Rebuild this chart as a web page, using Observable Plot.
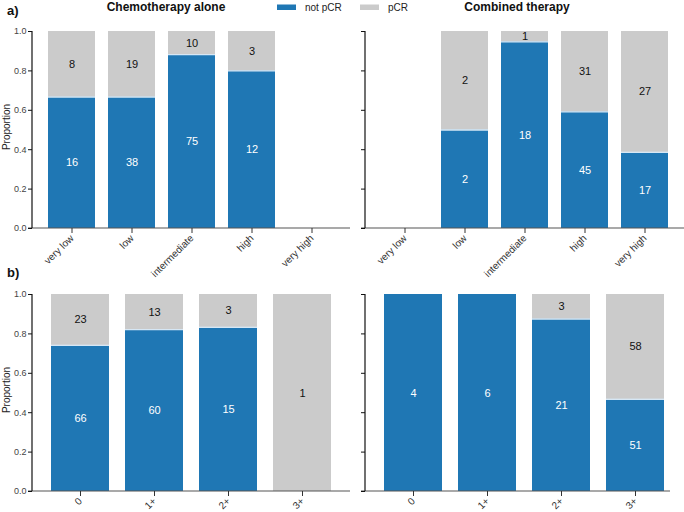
<!DOCTYPE html>
<html>
<head>
<meta charset="utf-8">
<script src="https://cdn.jsdelivr.net/npm/d3@7"></script>
<script src="https://cdn.jsdelivr.net/npm/@observablehq/plot@0.6"></script>
<style>
  html, body { margin: 0; padding: 0; background: white; }
  #root { position: relative; width: 684px; height: 512px; overflow: hidden; font-family: "Liberation Sans", Arial, sans-serif; }
  #root > svg, #root > .p { position: absolute; }
</style>
</head>
<body>
<div id="root"></div>
<script>
// ---- data ----
const statuses = ["not pCR", "pCR"];
const statusColors = ["#1f77b4", "#cbcbcb"];

const riskCategories = ["very low", "low", "intermediate", "high", "very high"];
const chemoRiskNot = [16, 38, 75, 12, 0];
const chemoRiskPcr = [8, 19, 10, 3, 0];
const combRiskNot = [0, 2, 18, 45, 17];
const combRiskPcr = [0, 2, 1, 31, 27];

const herCategories = ["0", "1+", "2+", "3+"];
const chemoHerNot = [66, 60, 15, 0];
const chemoHerPcr = [23, 13, 3, 1];
const combHerNot = [4, 6, 21, 51];
const combHerPcr = [0, 0, 3, 58];

const yTicks = [0, 0.2, 0.4, 0.6, 0.8, 1.0];

const svgns = "http://www.w3.org/2000/svg";
const root = document.getElementById("root");

function line(x1, y1, x2, y2, stroke, sw) {
  const l = document.createElementNS(svgns, "line");
  l.setAttribute("x1", x1); l.setAttribute("y1", y1);
  l.setAttribute("x2", x2); l.setAttribute("y2", y2);
  l.setAttribute("stroke", stroke); l.setAttribute("stroke-width", sw);
  return l;
}

function panel(cfg) {
  const rows = [], seps = [];
  cfg.cats.forEach((c, i) => {
    const n = cfg.not[i], p = cfg.pcr[i], t = n + p;
    if (t === 0) return;
    rows.push({cat: c, status: "not pCR", count: n, prop: n / t, mid: n / t / 2});
    rows.push({cat: c, status: "pCR", count: p, prop: p / t, mid: n / t + p / t / 2});
    if (n > 0 && p > 0) seps.push({cat: c, y: n / t});
  });
  const chart = Plot.plot({
    width: cfg.width,
    height: cfg.height,
    marginLeft: cfg.marginLeft,
    marginRight: cfg.marginRight,
    marginTop: cfg.marginTop,
    marginBottom: cfg.marginBottom,
    style: {background: "transparent", overflow: "visible", fontFamily: "'Liberation Sans', Arial, sans-serif"},
    x: {domain: cfg.cats, range: cfg.range, paddingInner: cfg.pi, paddingOuter: cfg.pi / 2, label: null},
    y: {domain: [0, 1], label: null},
    color: {domain: statuses, range: statusColors},
    marks: [
      Plot.barY(rows, {x: "cat", y: "prop", fill: "status"}),
      Plot.tickY(seps, {x: "cat", y: "y", stroke: "#d6e7f5", strokeWidth: 1.3}),
      Plot.text(rows.filter(d => d.status === "not pCR" && d.count > 0),
        {x: "cat", y: "mid", text: "count", fill: "white", fontSize: 11}),
      Plot.text(rows.filter(d => d.status === "pCR" && d.count > 0),
        {x: "cat", y: "mid", text: "count", fill: "#111", fontSize: 11}),
      // axis lines
      (index, scales, values, dims) => {
        const g = document.createElementNS(svgns, "g");
        g.appendChild(line(dims.marginLeft - 4, scales.y(0), dims.width - dims.marginRight, scales.y(0), "#555", 1.2));
        g.appendChild(line(dims.marginLeft, scales.y(1), dims.marginLeft, scales.y(0), "#111", 1.2));
        return g;
      },
      Plot.axisY({ticks: yTicks, tickFormat: cfg.yLabels ? d3.format(".1f") : () => "",
        tickSize: 4, tickPadding: 2, fontSize: 9, fill: "#444", stroke: "#111"}),
      Plot.axisX({tickSize: 5, tickRotate: -45, tickPadding: 3, fontSize: 10, fill: "#333", stroke: "#333"})
    ]
  });
  chart.style.position = "absolute";
  chart.style.left = cfg.left + "px";
  chart.style.top = cfg.top + "px";
  chart.style.maxWidth = "none";
  root.appendChild(chart);
}

// top row
panel({cats: riskCategories, not: chemoRiskNot, pcr: chemoRiskPcr,
  left: 0, top: 20, width: 352, height: 262, marginLeft: 32, marginRight: 2, marginTop: 11, marginBottom: 54,
  range: [41.5, 341.5], pi: 0.217, yLabels: true});
panel({cats: riskCategories, not: combRiskNot, pcr: combRiskPcr,
  left: 352, top: 20, width: 332, height: 262, marginLeft: 13, marginRight: 0, marginTop: 11, marginBottom: 54,
  range: [22.3, 322.3], pi: 0.217, yLabels: false});
// bottom row
panel({cats: herCategories, not: chemoHerNot, pcr: chemoHerPcr,
  left: 0, top: 283, width: 352, height: 229, marginLeft: 32, marginRight: 2, marginTop: 11, marginBottom: 21,
  range: [43, 339], pi: 0.216, yLabels: true});
panel({cats: herCategories, not: combHerNot, pcr: combHerPcr,
  left: 352, top: 283, width: 318, height: 229, marginLeft: 13, marginRight: 0, marginTop: 11, marginBottom: 21,
  range: [24.3, 320.3], pi: 0.216, yLabels: false});

// ---- annotations: titles, legend, panel letters, y labels ----
const ov = d3.select(root).append("svg")
  .attr("width", 684).attr("height", 512)
  .style("position", "absolute").style("left", "0px").style("top", "0px")
  .style("pointer-events", "none")
  .style("font-family", "'Liberation Sans', Arial, sans-serif");

ov.append("text").attr("x", 166).attr("y", 10.5).attr("text-anchor", "middle")
  .attr("font-size", 12).attr("font-weight", "bold").attr("fill", "#111").text("Chemotherapy alone");
ov.append("text").attr("x", 517).attr("y", 10.5).attr("text-anchor", "middle")
  .attr("font-size", 12).attr("font-weight", "bold").attr("fill", "#111").text("Combined therapy");

ov.append("text").attr("x", 7).attr("y", 15).attr("font-size", 13).attr("font-weight", "bold").attr("fill", "#111").text("a)");
ov.append("text").attr("x", 7).attr("y", 277).attr("font-size", 13).attr("font-weight", "bold").attr("fill", "#111").text("b)");

const legendX = [277, 360];
statuses.forEach((s, i) => {
  ov.append("rect").attr("x", legendX[i]).attr("y", 4.5).attr("width", 19).attr("height", 5.5).attr("fill", statusColors[i]);
  ov.append("text").attr("x", legendX[i] + 28).attr("y", 10.5).attr("font-size", 10).attr("fill", "#222").text(s);
});

[[10, 127], [10, 390]].forEach(([x, y]) => {
  ov.append("text").attr("transform", `translate(${x},${y}) rotate(-90)`).attr("text-anchor", "middle")
    .attr("font-size", 10).attr("fill", "#222").text("Proportion");
});
</script>
</body>
</html>
